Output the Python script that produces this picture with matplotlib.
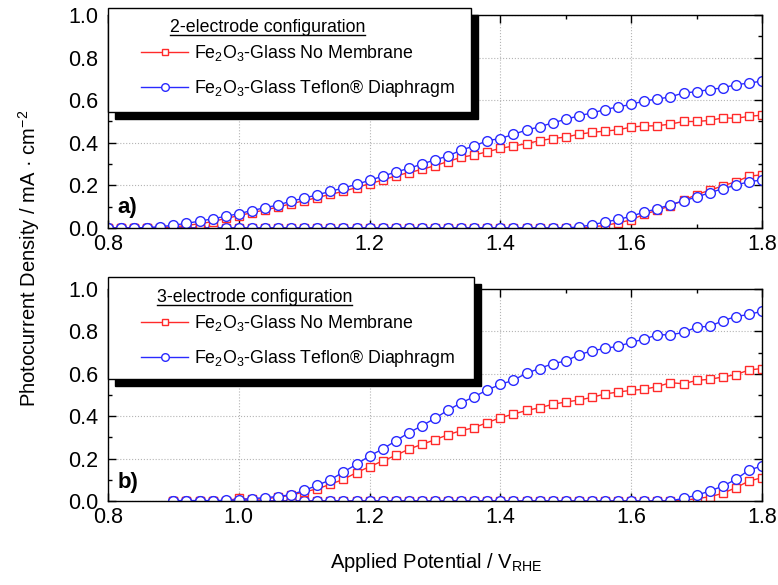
import numpy as np
import matplotlib
matplotlib.use("Agg")
import matplotlib.pyplot as plt
from matplotlib.lines import Line2D
from matplotlib.patches import Rectangle
from matplotlib.ticker import MultipleLocator

W, H = 778, 585

plt.rcParams["font.family"] = ["Liberation Sans", "DejaVu Sans"]
plt.rcParams["mathtext.fontset"] = "custom"
plt.rcParams["mathtext.rm"] = "Liberation Sans"
plt.rcParams["mathtext.it"] = "Liberation Sans:italic"
plt.rcParams["mathtext.bf"] = "Liberation Sans:bold"

# Potential sweep (V vs RHE)
potential_a = np.round(np.arange(0.80, 1.801, 0.02), 2)
potential_b = np.round(np.arange(0.90, 1.801, 0.02), 2)

# a) 2-electrode configuration, mA/cm^2
no_membrane_light_a = [
    0.0, 0.0, 0.0, 0.0, 0.002, 0.005, 0.012, 0.02, 0.03, 0.045,
    0.058, 0.072, 0.085, 0.098, 0.114, 0.128, 0.143, 0.158, 0.172, 0.19,
    0.208, 0.225, 0.245, 0.26, 0.275, 0.293, 0.312, 0.332, 0.343, 0.358,
    0.374, 0.385, 0.396, 0.41, 0.42, 0.427, 0.44, 0.449, 0.455, 0.461,
    0.474, 0.479, 0.48, 0.488, 0.5, 0.5, 0.505, 0.517, 0.515, 0.524, 0.53,
]
teflon_light_a = [
    0.0, 0.0, 0.0, 0.002, 0.006, 0.013, 0.022, 0.032, 0.043, 0.055,
    0.067, 0.082, 0.095, 0.108, 0.126, 0.14, 0.156, 0.172, 0.188, 0.205,
    0.224, 0.243, 0.263, 0.28, 0.30, 0.32, 0.338, 0.366, 0.385, 0.41,
    0.42, 0.44, 0.46, 0.475, 0.494, 0.51, 0.527, 0.54, 0.556, 0.569,
    0.58, 0.597, 0.605, 0.616, 0.634, 0.64, 0.65, 0.658, 0.673, 0.68, 0.69,
]
no_membrane_dark_a = [0.0] * 37 + [
    0.005, 0.012, 0.024, 0.038, 0.065, 0.083, 0.105,
    0.13, 0.157, 0.177, 0.198, 0.217, 0.243, 0.25,
]
teflon_dark_a = [0.0] * 36 + [
    0.005, 0.015, 0.028, 0.04, 0.055, 0.075, 0.09, 0.11,
    0.127, 0.146, 0.165, 0.185, 0.2, 0.218, 0.225,
]

# b) 3-electrode configuration, mA/cm^2
no_membrane_light_b = [
    0.001, 0.001, 0.001, 0.001, 0.002, 0.012, 0.008, 0.01, 0.018, 0.027,
    0.043, 0.057, 0.079, 0.102, 0.134, 0.162, 0.189, 0.215, 0.245, 0.267,
    0.289, 0.313, 0.332, 0.346, 0.37, 0.393, 0.41, 0.427, 0.44, 0.456,
    0.467, 0.476, 0.489, 0.505, 0.514, 0.522, 0.527, 0.54, 0.558, 0.553,
    0.569, 0.574, 0.585, 0.596, 0.618, 0.625,
]
teflon_light_b = [
    0.002, 0.002, 0.002, 0.002, 0.003, 0.006, 0.011, 0.016, 0.021, 0.03,
    0.05, 0.074, 0.1, 0.137, 0.173, 0.213, 0.245, 0.284, 0.322, 0.355,
    0.39, 0.429, 0.463, 0.492, 0.524, 0.55, 0.57, 0.603, 0.625, 0.648,
    0.66, 0.69, 0.708, 0.72, 0.73, 0.748, 0.764, 0.784, 0.784, 0.795,
    0.82, 0.824, 0.85, 0.87, 0.88, 0.895,
]
no_membrane_dark_b = [0.0] * 39 + [0.003, 0.011, 0.02, 0.036, 0.063, 0.094, 0.11]
teflon_dark_b = [0.0] * 39 + [0.013, 0.027, 0.047, 0.07, 0.102, 0.146, 0.165]

series_labels = [
    "Fe$_2$O$_3$-Glass No Membrane",
    "Fe$_2$O$_3$-Glass Teflon\u00ae Diaphragm",
]
config_titles = ["2-electrode configuration", "3-electrode configuration"]
panel_tags = ["a)", "b)"]

RED = "#ff2a2a"
BLUE = "#2a2aff"
RED_STYLE = dict(color=RED, lw=1.0, marker="s", ms=6, mfc="white", mec=RED, mew=1.0)
BLUE_STYLE = dict(color=BLUE, lw=1.0, marker="o", ms=7, mfc="white", mec=BLUE, mew=1.0)


def fig_xy(px, py):
    """Pixel position (from top-left) -> figure fraction."""
    return px / W, 1 - py / H


def add_axes_px(fig, left, top, right, bottom):
    x0, y0 = fig_xy(left, bottom)
    return fig.add_axes([x0, y0, (right - left) / W, (bottom - top) / H])


def style_axes(ax):
    ax.set_xlim(0.8, 1.8)
    ax.set_ylim(0.0, 1.0)
    ax.xaxis.set_major_locator(MultipleLocator(0.2))
    ax.xaxis.set_minor_locator(MultipleLocator(0.1))
    ax.yaxis.set_major_locator(MultipleLocator(0.2))
    ax.yaxis.set_minor_locator(MultipleLocator(0.1))
    ax.xaxis.set_major_formatter("{x:.1f}")
    ax.yaxis.set_major_formatter("{x:.1f}")
    ax.grid(True, which="major", ls=":", color="#b4b4b4", lw=0.8)
    ax.tick_params(which="both", direction="in", top=True, right=True, width=1, labelsize=15.5)
    ax.tick_params(which="major", length=6)
    ax.tick_params(which="minor", length=3)
    ax.tick_params(axis="x", pad=4)
    ax.tick_params(axis="y", pad=7)
    for s in ax.spines.values():
        s.set_linewidth(1.0)


def plot_panel(ax, x, red_light, blue_light, red_dark, blue_dark, tag, tag_y):
    ax.plot(x, red_dark, **RED_STYLE)
    ax.plot(x, blue_dark, **BLUE_STYLE)
    ax.plot(x, red_light, **RED_STYLE)
    ax.plot(x, blue_light, **BLUE_STYLE)
    style_axes(ax)
    ax.text(0.014, tag_y, tag, transform=ax.transAxes, ha="left", va="center",
            fontsize=16, fontweight="bold")


def draw_legend(fig, box, title, title_x, title_base, row_ys):
    """Boxed legend with a black drop shadow and an underlined title."""
    left, top, right, bottom = box
    off = 7
    for dx, fc, ec in [(off, "black", "black"), (0, "white", "black")]:
        x0, y0 = fig_xy(left + dx, bottom + dx)
        fig.add_artist(Rectangle((x0, y0), (right - left) / W, (bottom - top) / H,
                                 transform=fig.transFigure, facecolor=fc,
                                 edgecolor=ec, lw=1.0, zorder=10))

    t = fig.text(*fig_xy(title_x, title_base), title, fontsize=12.8,
                 va="baseline", ha="left", zorder=12)
    fig.canvas.draw()
    bb = t.get_window_extent()
    uy = bb.y0 + 1.5
    fig.add_artist(Line2D([bb.x0 / W, bb.x1 / W], [uy / H, uy / H],
                          transform=fig.transFigure, color="black", lw=1.0, zorder=12))

    for label, style, ry in zip(series_labels, [RED_STYLE, BLUE_STYLE], row_ys):
        xs = [fig_xy(left + 33, ry)[0], fig_xy(left + 80, ry)[0]]
        ys = [fig_xy(0, ry)[1]] * 2
        fig.add_artist(Line2D(xs, ys, transform=fig.transFigure, color=style["color"],
                              lw=1.0, zorder=12))
        mx, my = fig_xy(left + 57, ry)
        fig.add_artist(Line2D([mx], [my], transform=fig.transFigure, ls="none",
                              marker=style["marker"], ms=style["ms"] - 1.5, mfc="white",
                              mec=style["color"], mew=1.0, zorder=13))
        fig.text(*fig_xy(left + 86, ry + 6), label, fontsize=12.8,
                 va="baseline", ha="left", zorder=12)


def main():
    fig = plt.figure(figsize=(W / 100, H / 100), dpi=100)

    ax_a = add_axes_px(fig, 108, 15, 762, 228)
    ax_b = add_axes_px(fig, 108, 289, 762, 501)

    plot_panel(ax_a, potential_a, no_membrane_light_a, teflon_light_a,
               no_membrane_dark_a, teflon_dark_a, panel_tags[0], 0.095)
    plot_panel(ax_b, potential_b, no_membrane_light_b, teflon_light_b,
               no_membrane_dark_b, teflon_dark_b, panel_tags[1], 0.085)

    fig.text(*fig_xy(29, 258), "Photocurrent Density / mA \u00b7 cm$^{-2}$",
             rotation=90, ha="center", va="center", fontsize=14.5)
    fig.text(*fig_xy(436, 562), "Applied Potential / V$_{\\mathrm{RHE}}$",
             ha="center", va="center", fontsize=14.5)

    draw_legend(fig, (108, 8, 471, 112), config_titles[0], 170, 32, (52, 87))
    draw_legend(fig, (108, 277, 474, 379), config_titles[1], 157, 302, (322, 357))

    fig.savefig("out.png", dpi=100)
    plt.close(fig)


if __name__ == "__main__":
    main()
